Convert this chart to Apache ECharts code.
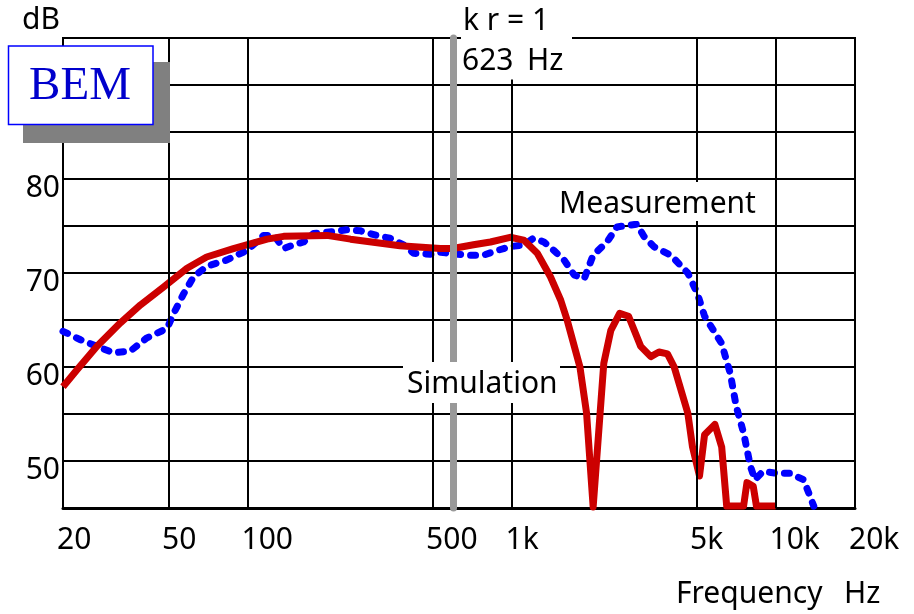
<!DOCTYPE html>
<html>
<head>
<meta charset="utf-8">
<script src="https://cdn.jsdelivr.net/npm/echarts@6/dist/echarts.min.js"></script>
<style>
html,body{margin:0;padding:0;background:#fff;}
#chart{width:914px;height:614px;}
</style>
</head>
<body>
<div id="chart"></div>
<script>
// ---- data ----
var simFreq = [20, 22.6, 26.9, 33, 39.3, 48.1, 59, 70, 88.4, 118.6, 137, 200, 245.6, 378, 538, 600, 718, 832, 988, 1112, 1252, 1404, 1536, 1624, 1816, 1924, 2038, 2236, 2378, 2568, 2776, 3086, 3370, 3620, 3896, 4132, 4652, 4848, 5152, 5386, 5890, 6252, 6532, 7568, 7792, 8234, 8468, 10000];
var simDb   = [57.9, 59.7, 62.2, 64.7, 66.6, 68.5, 70.5, 71.7, 72.6, 73.6, 73.9, 74.0, 73.6, 72.9, 72.6, 72.6, 73.0, 73.3, 73.8, 73.5, 72.1, 69.6, 67.1, 65.0, 60.0, 55.1, 45.1, 60.4, 63.9, 65.7, 65.4, 62.2, 61.1, 61.6, 61.4, 60.0, 55.1, 51.5, 48.4, 52.8, 53.9, 51.5, 45.2, 45.2, 47.7, 47.3, 45.2, 45.2];

var measFreq = [20, 23.3, 26.9, 31.1, 36, 41.6, 49.6, 52.5, 57.3, 62.5, 70, 83.6, 99.6, 115, 126, 137, 149.5, 163, 178, 212, 238, 267, 308, 346, 390, 426, 492, 538, 678, 784, 884, 988, 1112, 1212, 1326, 1446, 1580, 1726, 1886, 2038, 2300, 2510, 2984, 3172, 3462, 4010, 4652, 5060, 5386, 6252, 6740, 7100, 7568, 8040, 8360, 8960, 10100, 11360, 12780, 13960];
var measDb   = [63.8, 62.9, 62.2, 61.5, 61.7, 63.1, 64.1, 65.7, 67.8, 69.6, 70.7, 71.4, 72.4, 74.0, 74.0, 72.6, 73.0, 73.3, 74.2, 74.4, 74.6, 74.5, 74.0, 73.7, 73.0, 72.1, 72.0, 72.2, 71.9, 71.9, 72.4, 72.8, 73.0, 73.7, 73.3, 72.4, 71.4, 69.8, 69.4, 71.9, 73.3, 74.9, 75.2, 73.9, 72.8, 71.9, 70.0, 67.8, 65.4, 62.5, 59.3, 55.8, 53.0, 49.4, 48.0, 48.9, 48.7, 48.7, 48.0, 45.2];

var xTickFreqs  = [20, 50, 100, 500, 1000, 5000, 10000, 20000];
var xTickLabels = ['20', '50', '100', '500', '1k', '5k', '10k', '20k'];
var xGridFreqs  = [50, 100, 500, 1000, 5000, 10000];
var yLabelVals  = [50, 60, 70, 80];
var krFreq = 605;   // k r = 1 marker (drawn where the reference shows it)
var fMin = 20, fMax = 20000, dbMin = 45, dbMax = 95, dbStep = 5;

// ---- chart ----
var FONT = '"Noto Sans", "Liberation Sans", Arial, sans-serif';
var FS = 30;
var lg = function (f) { return Math.log10(f); };
var pairs = function (fs, vs) { return fs.map(function (f, i) { return [lg(f), vs[i]]; }); };
var txt = function (s, x, y, extra) {
  var st = {text: s, x: x, y: y, font: FS + 'px ' + FONT, fill: '#000', textVerticalAlign: 'middle', verticalAlign: 'middle'};
  return {type: 'text', z: 51, style: st};
};

var chart = echarts.init(document.getElementById('chart'), null, {renderer: 'canvas'});
chart.setOption({
  animation: false,
  backgroundColor: '#fff',
  grid: {left: 63, right: 59, top: 38, bottom: 106, show: true, borderColor: '#000', borderWidth: 2, containLabel: false},
  xAxis: {
    type: 'value', min: lg(fMin), max: lg(fMax),
    axisLine: {show: true, lineStyle: {color: '#000', width: 3}},
    axisTick: {show: false}, axisLabel: {show: false}, splitLine: {show: false}
  },
  yAxis: {
    type: 'value', min: dbMin, max: dbMax, interval: dbStep,
    axisLine: {show: false}, axisTick: {show: false}, axisLabel: {show: false},
    splitLine: {show: true, lineStyle: {color: '#000', width: 2}}
  },
  series: [
    { // vertical grid lines
      type: 'line', data: [], silent: true, z: 1,
      markLine: {
        silent: true, symbol: ['none', 'none'], label: {show: false}, animation: false,
        lineStyle: {color: '#000', width: 2, type: 'solid'},
        data: xGridFreqs.map(function (f) { return {xAxis: lg(f)}; })
      }
    },
    { // k r = 1 marker line
      type: 'line', data: [], silent: true, z: 1,
      markLine: {
        silent: true, symbol: ['none', 'none'], label: {show: false}, animation: false,
        lineStyle: {color: '#999999', width: 7, type: 'solid', cap: 'round'},
        data: [{xAxis: lg(krFreq)}]
      }
    },
    { // x tick labels
      type: 'scatter', silent: true, symbolSize: 0, z: 5, clip: false,
      itemStyle: {opacity: 1},
      data: xTickFreqs.map(function (f, i) { return {value: [lg(f), dbMin], name: xTickLabels[i]}; }),
      label: {
        show: true, formatter: '{b}', position: [-6, 32], align: 'left', verticalAlign: 'middle',
        color: '#000', opacity: 1, fontSize: FS, fontFamily: FONT
      }
    },
    { // y tick labels
      type: 'scatter', silent: true, symbolSize: 0, z: 5, clip: false,
      itemStyle: {opacity: 1},
      data: yLabelVals.map(function (v) { return {value: [lg(fMin), v], name: String(v)}; }),
      label: {
        show: true, formatter: '{b}', position: [-3, 9], align: 'right', verticalAlign: 'middle',
        color: '#000', opacity: 1, fontSize: FS, fontFamily: FONT
      }
    },
    {
      name: 'Measurement', type: 'line', data: pairs(measFreq, measDb), symbol: 'none', z: 3,
      lineStyle: {color: '#0000ff', width: 7, type: [5, 10], cap: 'round', join: 'round'}
    },
    {
      name: 'Simulation', type: 'line', data: pairs(simFreq, simDb), symbol: 'none', z: 4,
      lineStyle: {color: '#cc0000', width: 7, join: 'round'}
    }
  ],
  graphic: [
    txt('dB', 22, 20),
    {type: 'rect', z: 50, shape: {x: 461, y: 0, width: 111, height: 79.5}, style: {fill: '#fff'}},
    txt('k r = 1', 463, 21),
    txt('623', 462, 61),
    txt('Hz', 527, 61),
    {type: 'rect', z: 50, shape: {x: 555, y: 182, width: 205, height: 39}, style: {fill: '#fff'}},
    txt('Measurement', 559, 204),
    {type: 'rect', z: 50, shape: {x: 403, y: 362, width: 157, height: 41}, style: {fill: '#fff'}},
    txt('Simulation', 407, 384),
    txt('Frequency', 676, 594),
    txt('Hz', 844, 594),
    {type: 'rect', z: 60, shape: {x: 23, y: 62, width: 147, height: 81}, style: {fill: '#808080'}},
    {type: 'rect', z: 61, shape: {x: 8.5, y: 46, width: 144.5, height: 78.5}, style: {fill: '#fff', stroke: '#0000ff', lineWidth: 1.5}},
    {type: 'text', z: 62, style: {text: 'BEM', x: 80, y: 87, font: '47px "Liberation Serif", "Times New Roman", serif', fill: '#0000cc', textAlign: 'center', align: 'center', textVerticalAlign: 'middle', verticalAlign: 'middle'}}
  ]
});
</script>
</body>
</html>
